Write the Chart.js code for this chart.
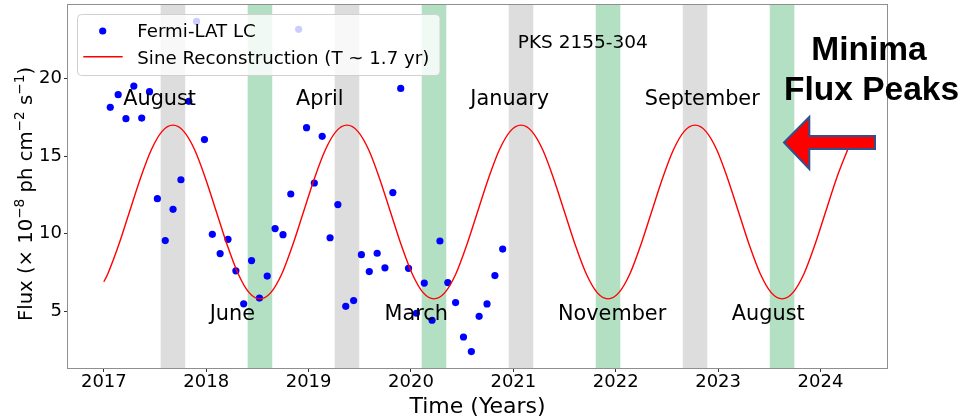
<!DOCTYPE html>
<html><head><meta charset="utf-8">
<script src="https://cdn.jsdelivr.net/npm/chart.js@4.4.1/dist/chart.umd.min.js"></script>
<style>html,body{margin:0;padding:0;background:#fff;} canvas{display:block;}</style>
</head><body>
<canvas id="c" width="961" height="417"></canvas>
<script>
// ---- data ----
const lcYears = [2017.063, 2017.140, 2017.216, 2017.293, 2017.370, 2017.446, 2017.523, 2017.600, 2017.676, 2017.753,
  2017.830, 2017.906, 2017.983, 2018.060, 2018.136, 2018.213, 2018.290, 2018.366, 2018.443, 2018.520,
  2018.596, 2018.673, 2018.750, 2018.826, 2018.903, 2018.980, 2019.056, 2019.133, 2019.210, 2019.286,
  2019.363, 2019.440, 2019.516, 2019.593, 2019.670, 2019.746, 2019.823, 2019.900, 2019.976, 2020.053,
  2020.130, 2020.206, 2020.283, 2020.360, 2020.436, 2020.513, 2020.590, 2020.666, 2020.743, 2020.820, 2020.896];
const lcFlux = [18.15, 18.97, 17.42, 19.52, 17.46, 19.16, 12.26, 9.56, 11.57, 13.48,
  18.54, 23.69, 16.07, 9.96, 8.72, 9.64, 7.61, 5.48, 8.27, 5.85,
  7.27, 10.33, 9.94, 12.56, 23.18, 16.84, 13.27, 16.28, 9.74, 11.88,
  5.32, 5.69, 8.65, 7.56, 8.74, 7.80, 12.65, 19.37, 7.77, 4.87,
  6.82, 4.42, 9.53, 6.85, 5.56, 3.34, 2.40, 4.67, 5.47, 7.30, 9.01];

// sine reconstruction curve
const sineYears = [
  2017.000, 2017.038, 2017.144, 2017.250, 2017.356, 2017.463, 2017.569,
  2017.675, 2017.781, 2017.888, 2017.994, 2018.100, 2018.206, 2018.313, 2018.419,
  2018.525, 2018.631, 2018.738, 2018.844, 2018.950, 2019.056, 2019.163, 2019.269,
  2019.375, 2019.481, 2019.588, 2019.694, 2019.800, 2019.906, 2020.013, 2020.119,
  2020.225, 2020.331, 2020.438, 2020.544, 2020.650, 2020.756, 2020.863, 2020.969,
  2021.075, 2021.181, 2021.288, 2021.394, 2021.500, 2021.606, 2021.713, 2021.819,
  2021.925, 2022.031, 2022.138, 2022.244, 2022.350, 2022.456, 2022.563, 2022.669,
  2022.775, 2022.881, 2022.988, 2023.094, 2023.200, 2023.306, 2023.413, 2023.519,
  2023.625, 2023.731, 2023.838, 2023.944, 2024.050, 2024.156, 2024.270];
const sineFlux = [
  6.9, 7.4, 9.25, 11.4, 13.55, 15.4, 16.6,
  17.0, 16.6, 15.4, 13.55, 11.4, 9.25, 7.4, 6.2,
  5.8, 6.2, 7.4, 9.25, 11.4, 13.55, 15.4, 16.6,
  17.0, 16.6, 15.4, 13.55, 11.4, 9.25, 7.4, 6.2,
  5.8, 6.2, 7.4, 9.25, 11.4, 13.55, 15.4, 16.6,
  17.0, 16.6, 15.4, 13.55, 11.4, 9.25, 7.4, 6.2,
  5.8, 6.2, 7.4, 9.25, 11.4, 13.55, 15.4, 16.6,
  17.0, 16.6, 15.4, 13.55, 11.4, 9.25, 7.4, 6.2,
  5.8, 6.2, 7.4, 9.25, 11.4, 13.55, 15.5];

const xTickValues = [2017, 2018, 2019, 2020, 2021, 2022, 2023, 2024];
const yTickValues = [5, 10, 15, 20];

const grayBandStart = [2017.555, 2019.255, 2020.955, 2022.655];
const grayBandEnd   = [2017.795, 2019.495, 2021.195, 2022.895];
const greenBandStart = [2018.405, 2020.105, 2021.805, 2023.505];
const greenBandEnd   = [2018.645, 2020.345, 2022.045, 2023.745];

const monthLabels = ['August', 'April', 'January', 'September', 'June', 'March', 'November', 'August'];
const monthLabelYears = [2017.545, 2019.110, 2020.965, 2022.845, 2018.255, 2020.052, 2021.965, 2023.490];
const monthLabelFlux = [18.3, 18.3, 18.3, 18.3, 4.45, 4.45, 4.45, 4.45];

const sourceName = 'PKS 2155-304';
const sourceYear = 2021.678;
const sourceFlux = 21.97;

const legendLabels = ['Fermi-LAT LC', 'Sine Reconstruction (T ~ 1.7 yr)'];
const xTitle = 'Time (Years)';
const yTitleParts = [['Flux (× 10', 0], ['−8', 1], [' ph cm', 0], ['−2', 1], [' s', 0], ['−1', 1], [')', 0]];
const calloutLines = ['Minima', 'Flux Peaks'];

// ---- drawing ----
const FONT = '"DejaVu Sans", sans-serif';

const overlay = {
  id: 'overlay',
  beforeDatasetsDraw(chart) {
    const {ctx, chartArea: a, scales: {x}} = chart;
    ctx.save();
    ctx.beginPath(); ctx.rect(a.left, a.top, a.right - a.left, a.bottom - a.top); ctx.clip();
    const band = (s, e, col) => {
      for (let i = 0; i < s.length; i++) {
        const x0 = x.getPixelForValue(s[i]), x1 = x.getPixelForValue(e[i]);
        ctx.fillStyle = col;
        ctx.fillRect(x0, a.top, x1 - x0, a.bottom - a.top);
      }
    };
    band(grayBandStart, grayBandEnd, '#dddddd');
    band(greenBandStart, greenBandEnd, '#b3dfc3');
    ctx.restore();
  },
  afterDatasetsDraw(chart) {
    const {ctx, chartArea: a, scales: {x, y}} = chart;
    ctx.save();
    // frame
    ctx.strokeStyle = '#8f8f8f'; ctx.lineWidth = 1;
    ctx.strokeRect(Math.round(a.left) - 0.5, Math.round(a.top) - 0.5, Math.round(a.right - a.left) + 1, Math.round(a.bottom - a.top) + 1);

    // month annotations
    ctx.fillStyle = '#000';
    ctx.font = '20.8px ' + FONT;
    ctx.textAlign = 'center'; ctx.textBaseline = 'alphabetic';
    for (let i = 0; i < monthLabels.length; i++) {
      ctx.fillText(monthLabels[i], x.getPixelForValue(monthLabelYears[i]), y.getPixelForValue(monthLabelFlux[i]));
    }
    ctx.font = '18.5px ' + FONT;
    ctx.fillText(sourceName, x.getPixelForValue(sourceYear), y.getPixelForValue(sourceFlux));

    // legend
    const lx = 77.5, ly = 14.5, lw = 362.5, lh = 61;
    ctx.beginPath();
    ctx.roundRect(lx, ly, lw, lh, 4);
    ctx.fillStyle = 'rgba(255,255,255,0.8)';
    ctx.fill();
    ctx.strokeStyle = '#d0d0d0'; ctx.lineWidth = 1; ctx.stroke();
    ctx.fillStyle = '#0000ff';
    ctx.beginPath(); ctx.arc(102.7, 31, 3.6, 0, Math.PI * 2); ctx.fill();
    ctx.strokeStyle = '#ff0000'; ctx.lineWidth = 1.5;
    ctx.beginPath(); ctx.moveTo(83.3, 56.7); ctx.lineTo(122.7, 56.7); ctx.stroke();
    ctx.fillStyle = '#000'; ctx.font = '18.2px ' + FONT; ctx.textAlign = 'left';
    ctx.fillText(legendLabels[0], 137.3, 36.5);
    ctx.fillText(legendLabels[1], 137.3, 63.5);

    // x title
    ctx.font = '22px ' + FONT; ctx.textAlign = 'center';
    ctx.fillText(xTitle, (a.left + a.right) / 2, 412.5);

    // y title with superscripts
    const base = 19.6, sup = base * 0.7;
    ctx.save();
    ctx.translate(31.5, 194);
    ctx.rotate(-Math.PI / 2);
    let total = 0;
    for (const [t, s] of yTitleParts) { ctx.font = (s ? sup : base) + 'px ' + FONT; total += ctx.measureText(t).width; }
    let cx = -total / 2;
    ctx.textAlign = 'left';
    for (const [t, s] of yTitleParts) {
      ctx.font = (s ? sup : base) + 'px ' + FONT;
      ctx.fillText(t, cx, s ? -8 : 0);
      cx += ctx.measureText(t).width;
    }
    ctx.restore();

    // callout arrow
    ctx.beginPath();
    ctx.moveTo(784, 142.5);
    ctx.lineTo(809.3, 117);
    ctx.lineTo(809.3, 136);
    ctx.lineTo(875, 136);
    ctx.lineTo(875, 149);
    ctx.lineTo(809.3, 149);
    ctx.lineTo(809.3, 169);
    ctx.closePath();
    ctx.fillStyle = '#ff0000'; ctx.fill();
    ctx.strokeStyle = '#2f528f'; ctx.lineWidth = 2; ctx.lineJoin = 'miter'; ctx.stroke();

    // callout text
    ctx.fillStyle = '#000';
    ctx.font = 'bold 33.5px "Liberation Sans", Arial, sans-serif';
    ctx.textAlign = 'center';
    ctx.fillText(calloutLines[0], 869, 60);
    ctx.fillText(calloutLines[1], 871.5, 100);
    ctx.restore();
  }
};

new Chart(document.getElementById('c'), {
  type: 'scatter',
  data: {
    datasets: [
      {
        label: legendLabels[1],
        data: sineYears.map((v, i) => ({x: v, y: sineFlux[i]})),
        showLine: true,
        borderColor: '#ff0000',
        borderWidth: 1.4,
        pointRadius: 0,
        cubicInterpolationMode: 'monotone',
        order: 0
      },
      {
        label: legendLabels[0],
        data: lcYears.map((v, i) => ({x: v, y: lcFlux[i]})),
        backgroundColor: '#0000ff',
        borderWidth: 0,
        pointRadius: 3.6,
        order: 1
      }
    ]
  },
  options: {
    responsive: false,
    animation: false,
    devicePixelRatio: 1,
    events: [],
    layout: {padding: {top: 5, right: 74, left: 0, bottom: 0}, autoPadding: false},
    plugins: {legend: {display: false}, tooltip: {enabled: false}},
    scales: {
      x: {
        type: 'linear', min: 2016.65, max: 2024.65,
        afterBuildTicks: s => { s.ticks = xTickValues.map(v => ({value: v})); },
        afterFit: s => { s.height = 49; s.paddingLeft = 0; s.paddingRight = 0; },
        grid: {drawOnChartArea: false, drawTicks: true, tickLength: 4, color: '#333', tickWidth: 1},
        border: {display: false},
        ticks: {callback: v => String(v), font: {family: FONT, size: 18}, color: '#000', padding: 0, maxRotation: 0, autoSkip: false}
      },
      y: {
        type: 'linear', min: 1.34, max: 24.75,
        afterBuildTicks: s => { s.ticks = yTickValues.map(v => ({value: v})); },
        afterFit: s => { s.width = 68; s.paddingTop = 0; s.paddingBottom = 0; },
        grid: {drawOnChartArea: false, drawTicks: true, tickLength: 4, color: '#333', tickWidth: 1},
        border: {display: false},
        ticks: {callback: v => String(v), font: {family: FONT, size: 18}, color: '#000', padding: 2}
      }
    }
  },
  plugins: [overlay]
});
</script>
</body></html>
